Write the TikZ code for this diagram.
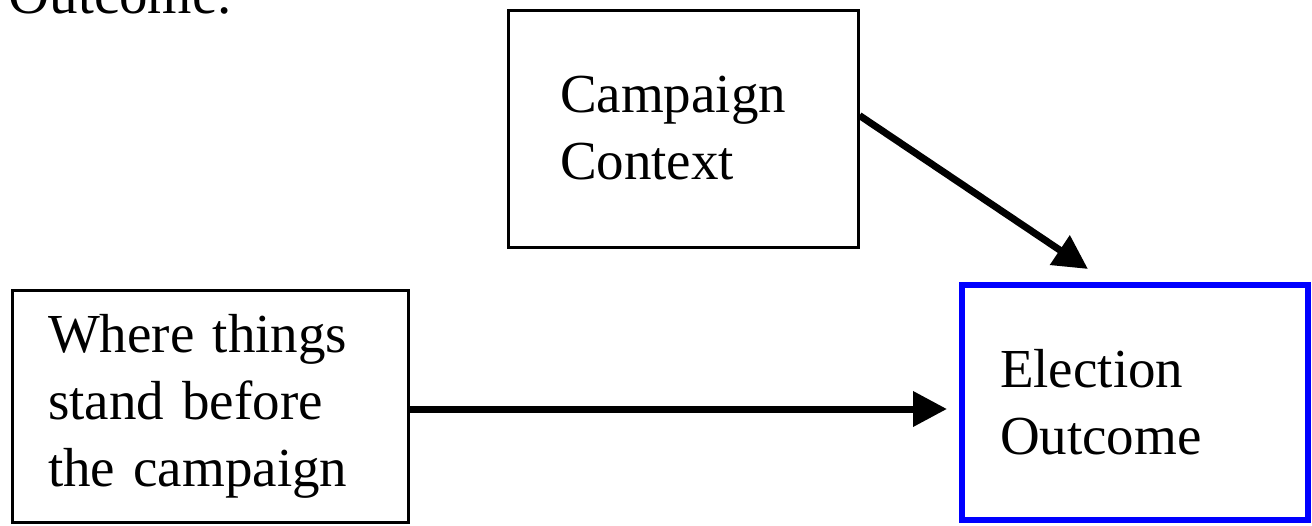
\documentclass[tikz,border=0pt]{standalone}
\usepackage{fontspec}
\setmainfont{Liberation Serif}
\usetikzlibrary{arrows.meta}

\begin{document}
\begin{tikzpicture}[x=1pt,y=-1pt,
    box/.style={draw, line width=3pt, align=left, inner ysep=0pt,
      font=\fontsize{55}{67}\selectfont},
    arr/.style={line width=7pt, -{Triangle[length=34pt,width=34pt]}}
  ]
    \useasboundingbox (0,0) rectangle (1312,525);
    \node[anchor=base west, font=\fontsize{57}{67}\selectfont] (caption) at (5,13) {Outcome.};
    \node[box, inner xsep=52pt, text width=246pt, minimum height=237pt]
      (context) at (683,128.5) {Campaign\\Context};
    \node[box, inner xsep=36pt, text width=324pt, minimum height=232pt]
      (before) at (210,406) {Where things\\stand before\\the campaign};
    \node[box, draw=blue, line width=6pt, inner xsep=38pt, text width=270pt,
      minimum height=235pt]
      (outcome) at (1135,402.5) {Election\\Outcome};
    \draw[arr] ([yshift=13pt]context.east) -- ([xshift=-47pt,yshift=13pt]outcome.north);
    \draw[arr, shorten >=12pt] (before.east |- 0,409) -- (outcome.west |- 0,409);
  \end{tikzpicture}
\end{document}
